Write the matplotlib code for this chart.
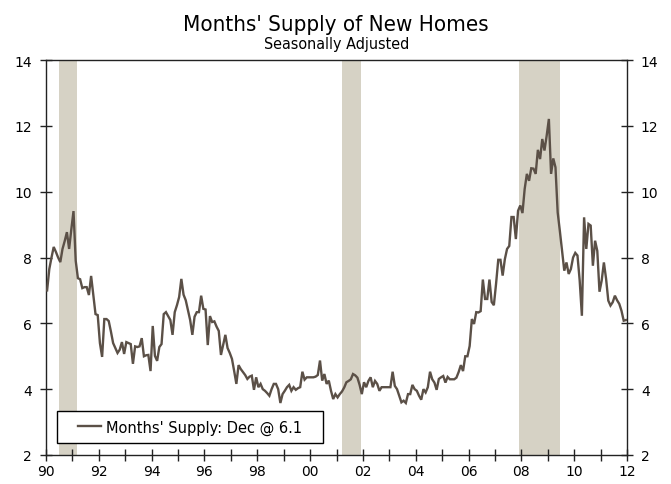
import matplotlib
matplotlib.use("Agg")
import matplotlib.pyplot as plt
from matplotlib.patches import Rectangle
from matplotlib.lines import Line2D
from matplotlib import font_manager
import numpy as np

# ---------------- data (monthly, seasonally adjusted months' supply) ----------------
years = list(range(1990, 2012))
supply_1990 = [7.0, 7.65, 8.0, 8.32, 8.17, 8.0, 7.86, 8.26, 8.5, 8.77, 8.26, 8.85]
supply_1991 = [9.41, 7.9, 7.37, 7.34, 7.07, 7.1, 7.1, 6.86, 7.44, 6.85, 6.28, 6.25]
supply_1992 = [5.4, 4.98, 6.13, 6.13, 6.07, 5.75, 5.4, 5.25, 5.1, 5.2, 5.43, 5.07]
supply_1993 = [5.43, 5.4, 5.37, 4.77, 5.3, 5.28, 5.3, 5.55, 5.0, 5.03, 5.04, 4.55]
supply_1994 = [5.92, 5.01, 4.86, 5.28, 5.37, 6.28, 6.34, 6.22, 6.1, 5.65, 6.34, 6.55]
supply_1995 = [6.8, 7.35, 6.87, 6.7, 6.4, 6.1, 5.65, 6.2, 6.34, 6.34, 6.84, 6.44]
supply_1996 = [6.42, 5.34, 6.22, 6.04, 6.06, 5.9, 5.77, 5.04, 5.35, 5.65, 5.25, 5.1]
supply_1997 = [4.92, 4.55, 4.16, 4.73, 4.61, 4.52, 4.43, 4.31, 4.38, 4.41, 3.98, 4.36]
supply_1998 = [4.06, 4.16, 4.0, 3.95, 3.88, 3.8, 4.0, 4.16, 4.16, 4.0, 3.58, 3.85]
supply_1999 = [3.95, 4.06, 4.13, 3.95, 4.06, 3.98, 4.03, 4.06, 4.53, 4.29, 4.36, 4.36]
supply_2000 = [4.36, 4.36, 4.38, 4.43, 4.87, 4.26, 4.46, 4.16, 4.26, 3.95, 3.70, 3.85]
supply_2001 = [3.75, 3.85, 3.93, 4.05, 4.21, 4.25, 4.3, 4.46, 4.42, 4.35, 4.13, 3.85]
supply_2002 = [4.21, 4.06, 4.25, 4.36, 4.06, 4.25, 4.16, 3.95, 4.06, 4.06, 4.06, 4.06]
supply_2003 = [4.06, 4.53, 4.1, 4.0, 3.8, 3.6, 3.65, 3.58, 3.85, 3.85, 4.13, 4.0]
supply_2004 = [3.95, 3.8, 3.68, 4.0, 3.9, 4.06, 4.53, 4.3, 4.2, 3.98, 4.31, 4.36]
supply_2005 = [4.4, 4.2, 4.37, 4.3, 4.3, 4.3, 4.35, 4.52, 4.73, 4.55, 5.0, 5.0]
supply_2006 = [5.31, 6.13, 5.98, 6.34, 6.33, 6.37, 7.33, 6.74, 6.74, 7.33, 6.65, 6.55]
supply_2007 = [7.2, 7.93, 7.93, 7.45, 7.95, 8.26, 8.35, 9.23, 9.23, 8.56, 9.42, 9.58]
supply_2008 = [9.35, 10.08, 10.54, 10.33, 10.71, 10.7, 10.54, 11.27, 10.99, 11.6, 11.25, 11.7]
supply_2009 = [12.21, 10.54, 11.01, 10.74, 9.37, 8.8, 8.2, 7.6, 7.85, 7.5, 7.65, 8.0]
supply_2010 = [8.14, 8.06, 7.3, 6.23, 9.22, 8.26, 9.02, 8.97, 7.75, 8.51, 8.2, 6.96]
supply_2011 = [7.3, 7.85, 7.35, 6.69, 6.54, 6.64, 6.84, 6.7, 6.59, 6.38, 6.08, 6.1]

recession_start = [1990.5, 2001.2, 2007.92]
recession_end = [1991.17, 2001.92, 2009.45]

x_tick_years = list(range(1990, 2013))
x_tick_labels = [f"{y % 100:02d}" if y % 2 == 0 else "" for y in x_tick_years]
y_ticks = [2, 4, 6, 8, 10, 12, 14]

title = "Months' Supply of New Homes"
subtitle = "Seasonally Adjusted"
legend_label = "Months' Supply: Dec @ 6.1"

# ---------------- assemble ----------------
all_years = [supply_1990, supply_1991, supply_1992, supply_1993, supply_1994,
             supply_1995, supply_1996, supply_1997, supply_1998, supply_1999,
             supply_2000, supply_2001, supply_2002, supply_2003, supply_2004,
             supply_2005, supply_2006, supply_2007, supply_2008, supply_2009,
             supply_2010, supply_2011]
values = np.concatenate([np.array(v, dtype=float) for v in all_years])
dates = np.concatenate([y + (np.arange(12) + 0.5) / 12.0 for y in years])

# ---------------- style ----------------
LINE_C = "#5b5047"
SHADE_C = "#d6d2c5"
SPINE_C = "#222222"
TICK_FONT = ["DejaVu Sans"]

installed = {f.name for f in font_manager.fontManager.ttflist}
if "Liberation Sans Narrow" in installed:
    TITLE_PROPS = dict(family=["Liberation Sans Narrow"], stretch="normal")
    title_size, sub_size = 18.5, 12.5
else:
    TITLE_PROPS = dict(family=["DejaVu Sans"], stretch="condensed")
    title_size, sub_size = 16.0, 11.5

fig = plt.figure(figsize=(6.71, 4.85), dpi=100)
ax = fig.add_axes([46 / 671, 1 - 456 / 485, (627 - 46) / 671, (456 - 61) / 485])

for s, e in zip(recession_start, recession_end):
    ax.axvspan(s, e, color=SHADE_C, lw=0, zorder=0)

ax.plot(dates, values, color=LINE_C, lw=1.7, zorder=3, solid_joinstyle="miter")

ax.set_xlim(1990, 2012)
ax.set_ylim(2, 14)
ax.set_xticks(x_tick_years)
ax.set_xticklabels(x_tick_labels)
ax.set_yticks(y_ticks)
ax.set_yticklabels([str(t) for t in y_ticks])

for sp in ax.spines.values():
    sp.set_color(SPINE_C)
    sp.set_linewidth(1.0)

ax.tick_params(axis="x", direction="inout", length=9, width=1.0, color=SPINE_C,
               pad=2, labelsize=10)
ax.tick_params(axis="y", direction="inout", length=8, width=1.0, color=SPINE_C,
               left=True, right=True, labelleft=True, labelright=True,
               pad=6, labelsize=10)
for lab in ax.get_xticklabels() + ax.get_yticklabels():
    lab.set_family(TICK_FONT)

# legend: content via matplotlib legend, drawn inside a rectangular frame
box_x0, box_y0 = (57 - 46) / 581, (456 - 444) / 395
box_w, box_h = (323 - 57) / 581, (444 - 412) / 395
ax.add_patch(Rectangle((box_x0, box_y0), box_w, box_h, transform=ax.transAxes,
                       facecolor="white", edgecolor="black", lw=1.0, zorder=5))
handle = Line2D([], [], color=LINE_C, lw=1.7)
leg = ax.legend([handle], [legend_label], loc="center",
                bbox_to_anchor=(box_x0 + box_w / 2, box_y0 + box_h / 2),
                bbox_transform=ax.transAxes, frameon=False,
                handlelength=1.6, handletextpad=0.3, borderpad=0.0,
                prop={"family": TICK_FONT, "size": 10.5})
leg.set_zorder(6)

fig.text(0.501, 1 - 31 / 485, title, ha="center", va="baseline",
         fontsize=title_size, color="black", **TITLE_PROPS)
fig.text(0.501, 1 - 48.5 / 485, subtitle, ha="center", va="baseline",
         fontsize=sub_size, color="black", **TITLE_PROPS)

fig.savefig("out.png", dpi=100)
